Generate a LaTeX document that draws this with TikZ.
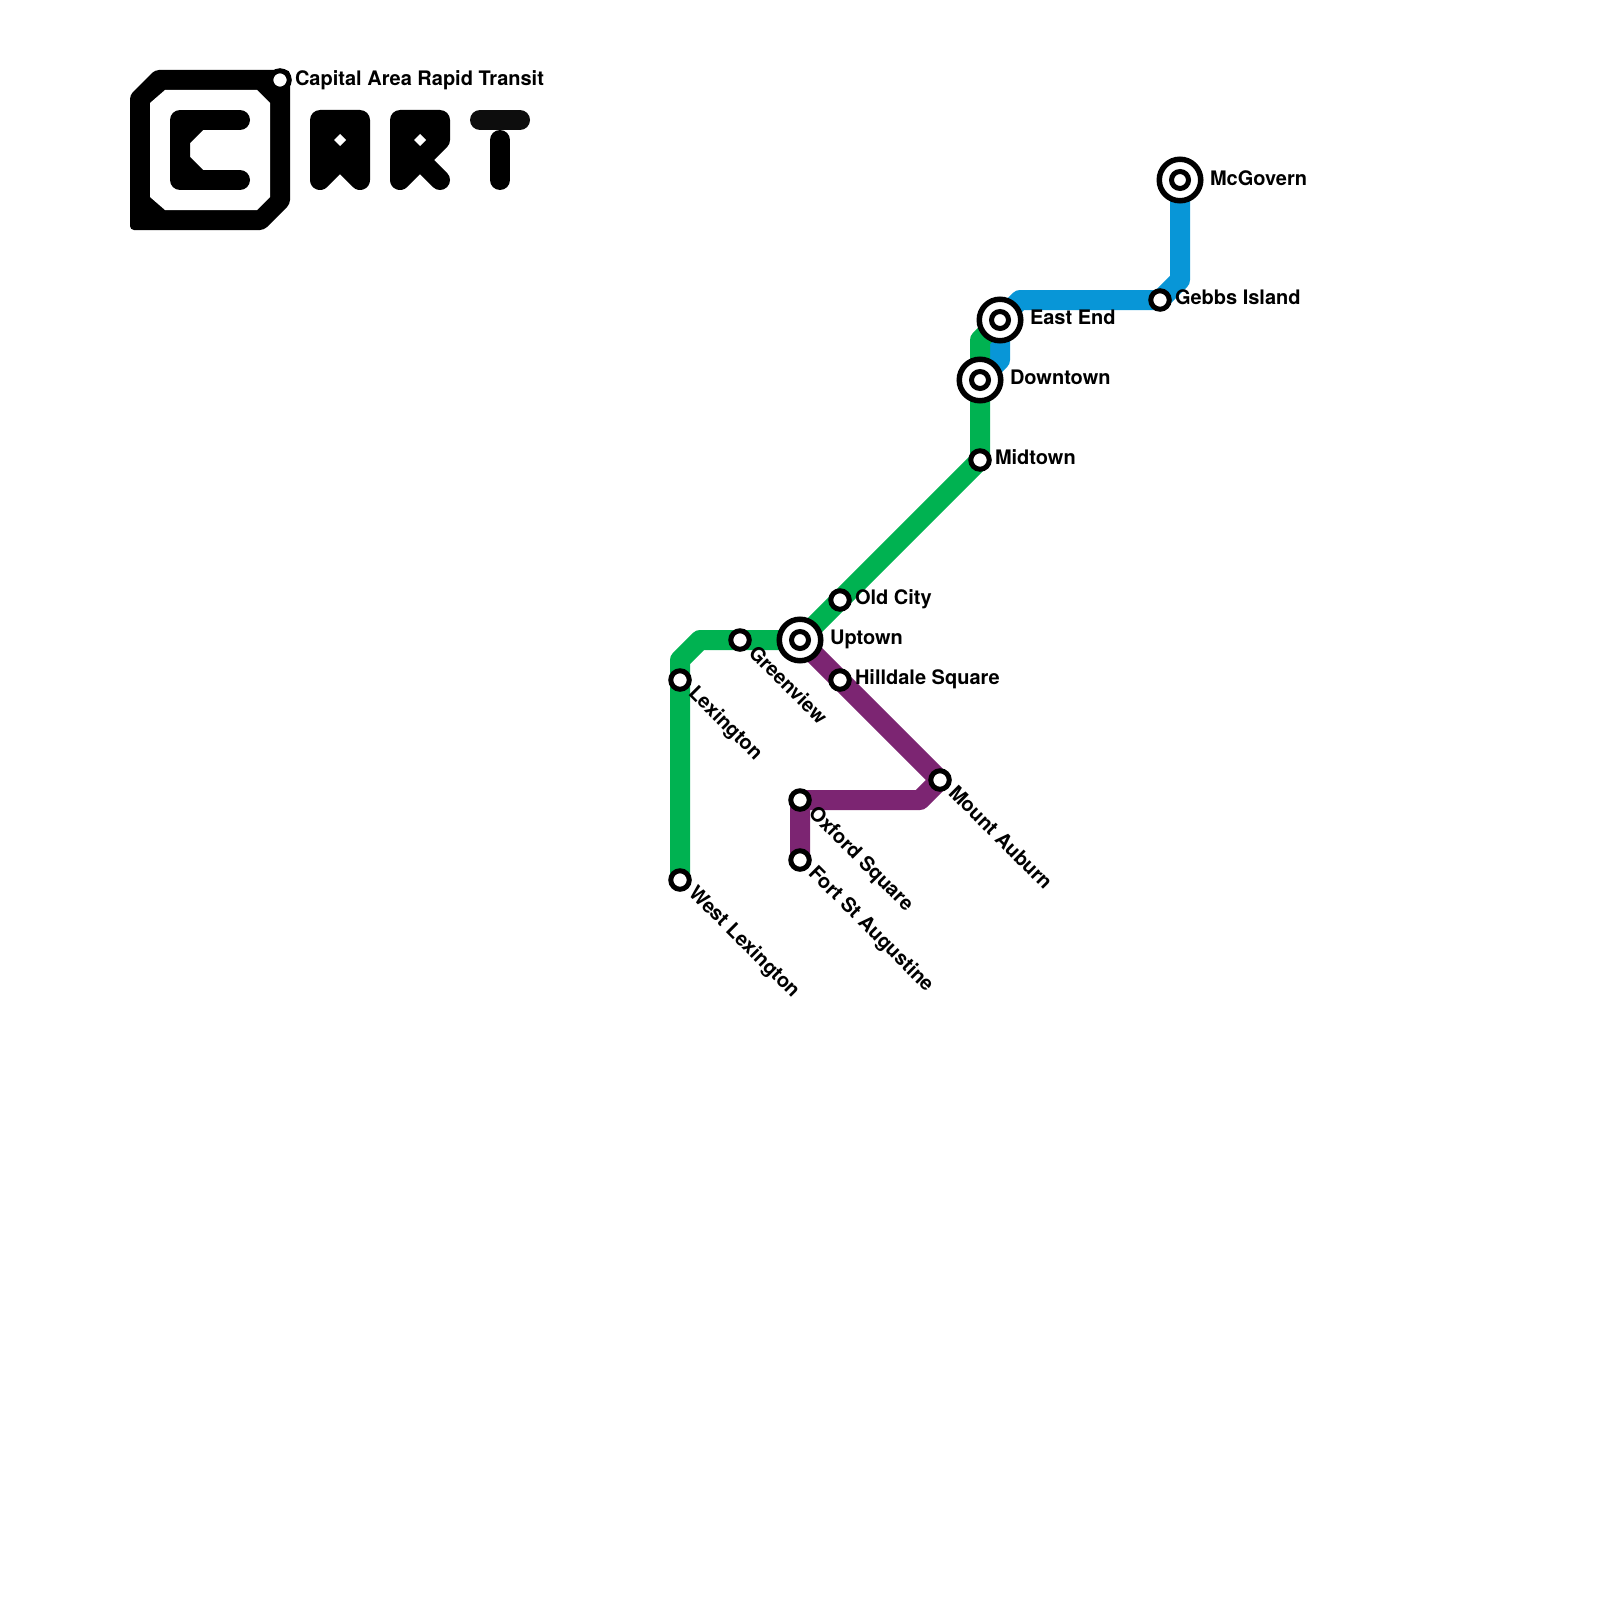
\documentclass[tikz,border=0pt]{standalone}
\usepackage{fontspec}
\setmainfont{TeX Gyre Heros}
\usetikzlibrary{backgrounds}
\definecolor{cgreen}{HTML}{00B251}
\definecolor{cblue}{HTML}{0896D7}
\definecolor{cpurple}{HTML}{7C2572}
\definecolor{cbar}{HTML}{0D0D0D}
\tikzset{
  stn/.style={circle,draw=black,fill=white,line width=5pt,minimum size=18.5pt,inner sep=0pt,outer sep=0pt},
  hubo/.style={circle,draw=black,fill=white,line width=5.5pt,minimum size=41.5pt,inner sep=0pt,outer sep=0pt},
  hubi/.style={circle,draw=black,fill=white,line width=5pt,minimum size=17pt,inner sep=0pt,outer sep=0pt},
  lbl/.style={anchor=base west,inner sep=0pt,outer sep=0pt,font=\fontsize{20}{22}\selectfont\bfseries},
  dlbl/.style={lbl,rotate=-45},
  metro/.style={line width=20pt,line join=round,line cap=round},
  glyph/.style={fill=black,draw=black,line width=20pt,line join=round,line cap=round},
  pip/.style={fill=white,draw=none}
}
\begin{document}
\begin{tikzpicture}[x=1pt,y=-1pt]
\useasboundingbox (0,0) rectangle (1600,1600);
% logo
\fill[black,rounded corners=4pt] (155,70) -- (290,70) -- (290,204) -- (264,230) -- (130,230) -- (130,95) -- cycle;
\fill[white] (165,90) -- (257,90) -- (270,103) -- (270,197) -- (257,210) -- (165,210) -- (150,197) -- (150,103) -- cycle;
\draw[black,line width=20pt,line join=round,line cap=round] (240,120) -- (180,120) -- (180,180) -- (240,180);
\fill[black] (180,120) -- (203,130) -- (190,143) -- (190,157) -- (203,170) -- (180,180) -- cycle;
\path[glyph] (320,120) -- (360,120) -- (360,180) -- (340,160) -- (320,180) -- cycle;
\fill[pip] (340,134) -- (346,140) -- (340,146) -- (334,140) -- cycle;
\path[glyph] (400,120) -- (440,120) -- (440,140) -- (420,160) -- (440,180) -- (420,160) -- (400,180) -- cycle;
\fill[pip] (420,134) -- (426,140) -- (420,146) -- (414,140) -- cycle;
\draw[cbar,line width=20pt,line cap=round] (480,120) -- (520,120);
\draw[black,line width=20pt,line cap=round] (500,140) -- (500,180);
% stations
\node[stn] (capital) at (280,80) {};
\node[lbl] (capitalL) at (295,85.5) {Capital Area Rapid Transit};
\node[hubo] (mcgovern) at (1180,180) {};
\node[hubi] (mcgovernI) at (1180,180) {};
\node[lbl] (mcgovernL) at (1210,185) {McGovern};
\node[stn] (gebbs) at (1160,300) {};
\node[lbl] (gebbsL) at (1175,304.8) {Gebbs Island};
\node[hubo] (eastend) at (1000,320) {};
\node[hubi] (eastendI) at (1000,320) {};
\node[lbl] (eastendL) at (1030,324.7) {East End};
\node[hubo] (downtown) at (980,380) {};
\node[hubi] (downtownI) at (980,380) {};
\node[lbl] (downtownL) at (1010,384.8) {Downtown};
\node[stn] (midtown) at (980,460) {};
\node[lbl] (midtownL) at (995,464.8) {Midtown};
\node[stn] (oldcity) at (840,600) {};
\node[lbl] (oldcityL) at (855,604.8) {Old City};
\node[hubo] (uptown) at (800,640) {};
\node[hubi] (uptownI) at (800,640) {};
\node[lbl] (uptownL) at (830,644.8) {Uptown};
\node[stn] (hilldale) at (840,680) {};
\node[lbl] (hilldaleL) at (855,684.8) {Hilldale Square};
\node[stn] (greenview) at (740,640) {};
\node[dlbl] (greenviewL) at (747.5,654) {Greenview};
\node[stn] (lexington) at (680,680) {};
\node[dlbl] (lexingtonL) at (687.5,694) {Lexington};
\node[stn] (westlex) at (680,880) {};
\node[dlbl] (westlexL) at (687.5,894) {West Lexington};
\node[stn] (auburn) at (940,780) {};
\node[dlbl] (auburnL) at (947.5,794) {Mount Auburn};
\node[stn] (oxford) at (800,800) {};
\node[dlbl] (oxfordL) at (807.5,814) {Oxford Square};
\node[stn] (fort) at (800,860) {};
\node[dlbl] (fortL) at (807.5,874) {Fort St Augustine};
% bends
\coordinate (gb1) at (680,660);
\coordinate (gb2) at (700,640);
\coordinate (gb3) at (980,340);
\coordinate (bb1) at (1000,360);
\coordinate (bb2) at (1020,300);
\coordinate (bb3) at (1180,280);
\coordinate (pb1) at (920,800);
\begin{scope}[on background layer]
\draw[metro,cblue] (downtown.center) -- (bb1) -- (eastend.center) -- (bb2) -- (gebbs.center) -- (bb3) -- (mcgovern.center);
\draw[metro,cgreen] (westlex.center) -- (lexington.center) -- (gb1) -- (gb2) -- (greenview.center) -- (uptown.center) -- (oldcity.center) -- (midtown.center) -- (downtown.center) -- (gb3) -- (eastend.center);
\draw[metro,cpurple] (uptown.center) -- (hilldale.center) -- (auburn.center) -- (pb1) -- (oxford.center) -- (fort.center);
\end{scope}
\end{tikzpicture}
\end{document}
